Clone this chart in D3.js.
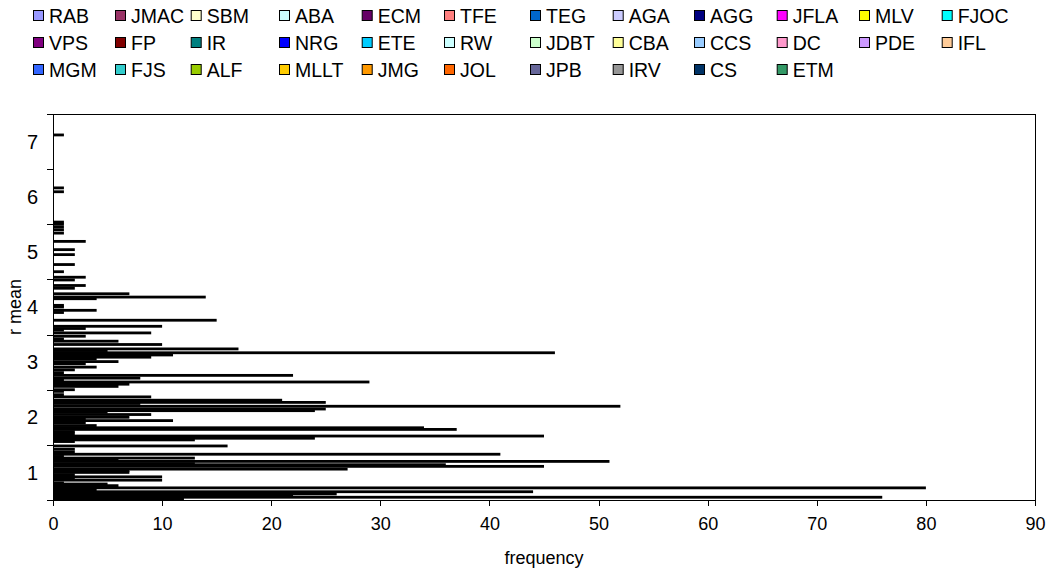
<!DOCTYPE html>
<html>
<head>
<meta charset="utf-8">
<title>r mean frequency</title>
<script src="https://d3js.org/d3.v7.min.js"></script>
<style>
 body { margin: 0; background: #fff; }
 text { font-family: "Liberation Sans", Arial, sans-serif; fill: #000; }
 .axis path, .axis line { stroke: #000; shape-rendering: crispEdges; }
 .axis text { font-size: 18px; }
 .legend text { font-size: 19.5px; }
 .title { font-size: 18px; }
</style>
</head>
<body>
<div id="chart"></div>
<script>
// legend series (all bars draw black in the original)
var seriesNames = ["RAB","JMAC","SBM","ABA","ECM","TFE","TEG","AGA","AGG","JFLA","MLV","FJOC",
  "VPS","FP","IR","NRG","ETE","RW","JDBT","CBA","CCS","DC","PDE","IFL",
  "MGM","FJS","ALF","MLLT","JMG","JOL","JPB","IRV","CS","ETM"];
var seriesColors = ["#9999FF","#993366","#FFFFCC","#CCFFFF","#660066","#FF8080","#0066CC","#CCCCFF","#000080","#FF00FF","#FFFF00","#00FFFF",
  "#800080","#800000","#008080","#0000FF","#00CCFF","#CCFFFF","#CCFFCC","#FFFF99","#99CCFF","#FF99CC","#CC99FF","#FFCC99",
  "#3366FF","#33CCCC","#99CC00","#FFCC00","#FF9900","#FF6600","#666699","#969696","#003366","#339966"];

// bars: r mean value and frequency
var rMean = [7.12,6.16,6.09,5.54,5.50,5.45,5.40,5.34,5.19,5.04,4.95,4.77,4.64,4.54,4.49,4.39,4.34,4.24,4.18,4.15,
  4.03,4.00,3.94,3.90,3.76,3.65,3.61,3.58,3.53,3.47,3.42,3.38,3.32,3.24,3.21,3.17,3.13,3.09,3.06,3.01,
  2.97,2.91,2.86,2.81,2.76,2.71,2.68,2.64,2.60,2.56,2.50,2.47,2.41,2.37,2.31,2.27,2.25,2.20,2.15,2.12,
  2.09,2.05,2.00,1.97,1.94,1.90,1.85,1.81,1.78,1.74,1.70,1.66,1.62,1.59,1.56,1.48,1.42,1.37,1.33,1.29,
  1.26,1.23,1.20,1.16,1.14,1.11,1.06,1.03,1.00,0.96,0.92,0.89,0.86,0.81,0.79,0.76,0.72,0.68,0.65,0.61,
  0.58,0.55,0.52];
var freq = [1,1,1,1,1,1,1,1,3,2,2,2,1,3,2,3,2,7,14,4,
  1,1,4,1,15,10,3,1,9,3,1,6,10,17,5,46,11,9,4,6,
  3,4,2,1,22,8,1,29,7,6,2,1,1,9,21,25,8,52,25,24,
  5,9,7,3,11,3,4,34,37,2,2,45,24,13,2,16,2,2,41,1,
  13,6,51,13,36,45,27,7,7,2,10,2,10,1,5,6,80,4,44,26,
  22,76,12];

var xTicks = [0,10,20,30,40,50,60,70,80,90];
var yLabels = [1,2,3,4,5,6,7];
var yMarks = [0.5,1.5,2.5,3.5,4.5,5.5,6.5,7.5];

var W = 1049, H = 571;
var plot = {left: 53, right: 1035, top: 114, bottom: 500};

var svg = d3.select("#chart").append("svg")
  .attr("width", W).attr("height", H);

var x = d3.scaleLinear().domain([0, 90]).range([plot.left, plot.right]);
var y = d3.scaleLinear().domain([0.5, 7.5]).range([plot.bottom, plot.top]);

// bars
var bars = rMean.map(function(v, i) { return {r: v, f: freq[i]}; });
svg.append("g").selectAll("rect")
  .data(bars)
  .enter().append("rect")
  .attr("x", x(0))
  .attr("y", function(d) { return y(d.r) - 1.4; })
  .attr("width", function(d) { return x(d.f) - x(0); })
  .attr("height", 2.8)
  .attr("fill", "#000");

// frame
svg.append("rect")
  .attr("x", plot.left + 0.5).attr("y", plot.top + 0.5)
  .attr("width", plot.right - plot.left).attr("height", plot.bottom - plot.top)
  .attr("fill", "none").attr("stroke", "#000").attr("shape-rendering", "crispEdges");

// x axis
var gx = svg.append("g").attr("class", "axis")
  .attr("transform", "translate(0," + plot.bottom + ")")
  .call(d3.axisBottom(x).tickValues(xTicks).tickSize(6).tickPadding(11).tickSizeOuter(0));
gx.select(".domain").remove();

// y axis: tick marks at half values, labels at integers
var gy = svg.append("g").attr("class", "axis")
  .attr("transform", "translate(" + plot.left + ",0)");
gy.call(d3.axisLeft(y).tickValues(yMarks).tickSize(6).tickFormat("").tickSizeOuter(0));
gy.select(".domain").remove();
gy.selectAll(".lbl").data(yLabels).enter().append("text")
  .attr("class", "lbl")
  .attr("x", -15).attr("y", function(d) { return y(d); })
  .attr("dy", "0.36em").attr("text-anchor", "end")
  .style("font-size", "20px")
  .text(function(d) { return d; });

svg.append("text").attr("class", "title")
  .attr("x", (plot.left + plot.right) / 2).attr("y", 564)
  .attr("text-anchor", "middle")
  .text("frequency");

svg.append("text").attr("class", "title")
  .attr("transform", "translate(21," + ((plot.top + plot.bottom) / 2) + ") rotate(-90)")
  .attr("text-anchor", "middle")
  .text("r mean");

// legend, 12 per row
var colX = [33,115,190.7,279,361.7,444,530,612.7,694,776.7,859,941.7];
var rowY = [16,43,70];
var lg = svg.append("g").attr("class", "legend");
var item = lg.selectAll("g").data(seriesNames).enter().append("g")
  .attr("transform", function(d, i) {
    return "translate(" + colX[i % 12] + "," + rowY[Math.floor(i / 12)] + ")";
  });
item.append("rect")
  .attr("x", 0.5).attr("y", -5.5).attr("width", 10).attr("height", 10)
  .attr("fill", function(d, i) { return seriesColors[i]; })
  .attr("stroke", "#000").attr("stroke-width", 1);
item.append("text")
  .attr("x", 16).attr("dy", "0.36em")
  .text(function(d) { return d; });
</script>
</body>
</html>
